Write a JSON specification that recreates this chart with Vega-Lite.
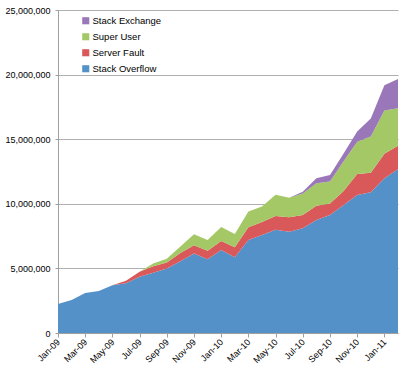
{
  "$schema": "https://vega.github.io/schema/vega-lite/v6.json",
  "width": 340,
  "height": 323,
  "autosize": {"type": "none"},
  "padding": {"left": 58, "top": 10, "right": 14, "bottom": 42},
  "background": "white",
  "config": {
    "view": {"stroke": null},
    "font": "Liberation Sans",
    "axis": {"labelFont": "Liberation Sans", "labelFontSize": 9, "labelColor": "#000000"},
    "legend": {"labelFont": "Liberation Sans", "labelFontSize": 9.5, "labelColor": "#000000"}
  },
  "datasets": {
    "traffic": [
      {"month": "Jan-09", "site": "Stack Overflow", "views": 2240000},
      {"month": "Feb-09", "site": "Stack Overflow", "views": 2550000},
      {"month": "Mar-09", "site": "Stack Overflow", "views": 3100000},
      {"month": "Apr-09", "site": "Stack Overflow", "views": 3250000},
      {"month": "May-09", "site": "Stack Overflow", "views": 3700000},
      {"month": "Jun-09", "site": "Stack Overflow", "views": 3850000},
      {"month": "Jul-09", "site": "Stack Overflow", "views": 4350000},
      {"month": "Aug-09", "site": "Stack Overflow", "views": 4670000},
      {"month": "Sep-09", "site": "Stack Overflow", "views": 5000000},
      {"month": "Oct-09", "site": "Stack Overflow", "views": 5550000},
      {"month": "Nov-09", "site": "Stack Overflow", "views": 6150000},
      {"month": "Dec-09", "site": "Stack Overflow", "views": 5700000},
      {"month": "Jan-10", "site": "Stack Overflow", "views": 6420000},
      {"month": "Feb-10", "site": "Stack Overflow", "views": 5860000},
      {"month": "Mar-10", "site": "Stack Overflow", "views": 7200000},
      {"month": "Apr-10", "site": "Stack Overflow", "views": 7580000},
      {"month": "May-10", "site": "Stack Overflow", "views": 8000000},
      {"month": "Jun-10", "site": "Stack Overflow", "views": 7840000},
      {"month": "Jul-10", "site": "Stack Overflow", "views": 8100000},
      {"month": "Aug-10", "site": "Stack Overflow", "views": 8750000},
      {"month": "Sep-10", "site": "Stack Overflow", "views": 9130000},
      {"month": "Oct-10", "site": "Stack Overflow", "views": 9900000},
      {"month": "Nov-10", "site": "Stack Overflow", "views": 10680000},
      {"month": "Dec-10", "site": "Stack Overflow", "views": 10900000},
      {"month": "Jan-11", "site": "Stack Overflow", "views": 11970000},
      {"month": "Feb-11", "site": "Stack Overflow", "views": 12670000},

      {"month": "Jan-09", "site": "Server Fault", "views": 0},
      {"month": "Feb-09", "site": "Server Fault", "views": 0},
      {"month": "Mar-09", "site": "Server Fault", "views": 0},
      {"month": "Apr-09", "site": "Server Fault", "views": 0},
      {"month": "May-09", "site": "Server Fault", "views": 0},
      {"month": "Jun-09", "site": "Server Fault", "views": 200000},
      {"month": "Jul-09", "site": "Server Fault", "views": 400000},
      {"month": "Aug-09", "site": "Server Fault", "views": 500000},
      {"month": "Sep-09", "site": "Server Fault", "views": 450000},
      {"month": "Oct-09", "site": "Server Fault", "views": 650000},
      {"month": "Nov-09", "site": "Server Fault", "views": 650000},
      {"month": "Dec-09", "site": "Server Fault", "views": 670000},
      {"month": "Jan-10", "site": "Server Fault", "views": 700000},
      {"month": "Feb-10", "site": "Server Fault", "views": 770000},
      {"month": "Mar-10", "site": "Server Fault", "views": 980000},
      {"month": "Apr-10", "site": "Server Fault", "views": 1020000},
      {"month": "May-10", "site": "Server Fault", "views": 1050000},
      {"month": "Jun-10", "site": "Server Fault", "views": 1110000},
      {"month": "Jul-10", "site": "Server Fault", "views": 1030000},
      {"month": "Aug-10", "site": "Server Fault", "views": 1100000},
      {"month": "Sep-10", "site": "Server Fault", "views": 900000},
      {"month": "Oct-10", "site": "Server Fault", "views": 1100000},
      {"month": "Nov-10", "site": "Server Fault", "views": 1620000},
      {"month": "Dec-10", "site": "Server Fault", "views": 1500000},
      {"month": "Jan-11", "site": "Server Fault", "views": 1900000},
      {"month": "Feb-11", "site": "Server Fault", "views": 1830000},

      {"month": "Jan-09", "site": "Super User", "views": 0},
      {"month": "Feb-09", "site": "Super User", "views": 0},
      {"month": "Mar-09", "site": "Super User", "views": 0},
      {"month": "Apr-09", "site": "Super User", "views": 0},
      {"month": "May-09", "site": "Super User", "views": 0},
      {"month": "Jun-09", "site": "Super User", "views": 0},
      {"month": "Jul-09", "site": "Super User", "views": 0},
      {"month": "Aug-09", "site": "Super User", "views": 200000},
      {"month": "Sep-09", "site": "Super User", "views": 300000},
      {"month": "Oct-09", "site": "Super User", "views": 500000},
      {"month": "Nov-09", "site": "Super User", "views": 850000},
      {"month": "Dec-09", "site": "Super User", "views": 830000},
      {"month": "Jan-10", "site": "Super User", "views": 1080000},
      {"month": "Feb-10", "site": "Super User", "views": 1030000},
      {"month": "Mar-10", "site": "Super User", "views": 1220000},
      {"month": "Apr-10", "site": "Super User", "views": 1200000},
      {"month": "May-10", "site": "Super User", "views": 1650000},
      {"month": "Jun-10", "site": "Super User", "views": 1520000},
      {"month": "Jul-10", "site": "Super User", "views": 1670000},
      {"month": "Aug-10", "site": "Super User", "views": 1750000},
      {"month": "Sep-10", "site": "Super User", "views": 1700000},
      {"month": "Oct-10", "site": "Super User", "views": 2300000},
      {"month": "Nov-10", "site": "Super User", "views": 2500000},
      {"month": "Dec-10", "site": "Super User", "views": 2800000},
      {"month": "Jan-11", "site": "Super User", "views": 3360000},
      {"month": "Feb-11", "site": "Super User", "views": 2900000},

      {"month": "Jan-09", "site": "Stack Exchange", "views": 0},
      {"month": "Feb-09", "site": "Stack Exchange", "views": 0},
      {"month": "Mar-09", "site": "Stack Exchange", "views": 0},
      {"month": "Apr-09", "site": "Stack Exchange", "views": 0},
      {"month": "May-09", "site": "Stack Exchange", "views": 0},
      {"month": "Jun-09", "site": "Stack Exchange", "views": 0},
      {"month": "Jul-09", "site": "Stack Exchange", "views": 0},
      {"month": "Aug-09", "site": "Stack Exchange", "views": 0},
      {"month": "Sep-09", "site": "Stack Exchange", "views": 0},
      {"month": "Oct-09", "site": "Stack Exchange", "views": 0},
      {"month": "Nov-09", "site": "Stack Exchange", "views": 0},
      {"month": "Dec-09", "site": "Stack Exchange", "views": 0},
      {"month": "Jan-10", "site": "Stack Exchange", "views": 0},
      {"month": "Feb-10", "site": "Stack Exchange", "views": 0},
      {"month": "Mar-10", "site": "Stack Exchange", "views": 0},
      {"month": "Apr-10", "site": "Stack Exchange", "views": 0},
      {"month": "May-10", "site": "Stack Exchange", "views": 0},
      {"month": "Jun-10", "site": "Stack Exchange", "views": 0},
      {"month": "Jul-10", "site": "Stack Exchange", "views": 140000},
      {"month": "Aug-10", "site": "Stack Exchange", "views": 370000},
      {"month": "Sep-10", "site": "Stack Exchange", "views": 500000},
      {"month": "Oct-10", "site": "Stack Exchange", "views": 600000},
      {"month": "Nov-10", "site": "Stack Exchange", "views": 800000},
      {"month": "Dec-10", "site": "Stack Exchange", "views": 1400000},
      {"month": "Jan-11", "site": "Stack Exchange", "views": 1940000},
      {"month": "Feb-11", "site": "Stack Exchange", "views": 2250000}
    ]
  },
  "data": {"name": "traffic"},
  "transform": [
    {"calculate": "indexof(['Stack Overflow','Server Fault','Super User','Stack Exchange'], datum.site)", "as": "siteOrder"}
  ],
  "mark": {"type": "area", "interpolate": "linear"},
  "encoding": {
    "x": {
      "field": "month",
      "type": "ordinal",
      "sort": null,
      "scale": {"type": "point", "padding": 0},
      "axis": {
        "title": null,
        "values": ["Jan-09", "Mar-09", "May-09", "Jul-09", "Sep-09", "Nov-09", "Jan-10", "Mar-10", "May-10", "Jul-10", "Sep-10", "Nov-10", "Jan-11"],
        "labelAngle": -45,
        "labelAlign": "right",
        "labelBaseline": "middle",
        "labelPadding": 3,
        "tickSize": 4,
        "tickColor": "#a0a0a0",
        "domainColor": "#a0a0a0",
        "grid": false,
        "zindex": 1
      }
    },
    "y": {
      "field": "views",
      "type": "quantitative",
      "stack": "zero",
      "scale": {"domain": [0, 25000000], "nice": false},
      "axis": {
        "title": null,
        "values": [0, 5000000, 10000000, 15000000, 20000000, 25000000],
        "format": ",.0f",
        "grid": true,
        "gridColor": "#b0b0b0",
        "gridWidth": 1,
        "domainColor": "#a0a0a0",
        "tickColor": "#a0a0a0",
        "tickSize": 3,
        "labelPadding": 5
      }
    },
    "color": {
      "field": "site",
      "type": "nominal",
      "scale": {
        "domain": ["Stack Overflow", "Server Fault", "Super User", "Stack Exchange"],
        "range": ["#5591c9", "#d9595b", "#a4c866", "#9a77b8"]
      },
      "legend": {
        "title": null,
        "orient": "none",
        "legendX": 23,
        "legendY": 6,
        "values": ["Stack Exchange", "Super User", "Server Fault", "Stack Overflow"],
        "symbolType": "square",
        "symbolSize": 50,
        "symbolStrokeWidth": 0,
        "rowPadding": 5,
        "labelOffset": 2
      }
    },
    "order": {"field": "siteOrder", "type": "quantitative"}
  }
}
